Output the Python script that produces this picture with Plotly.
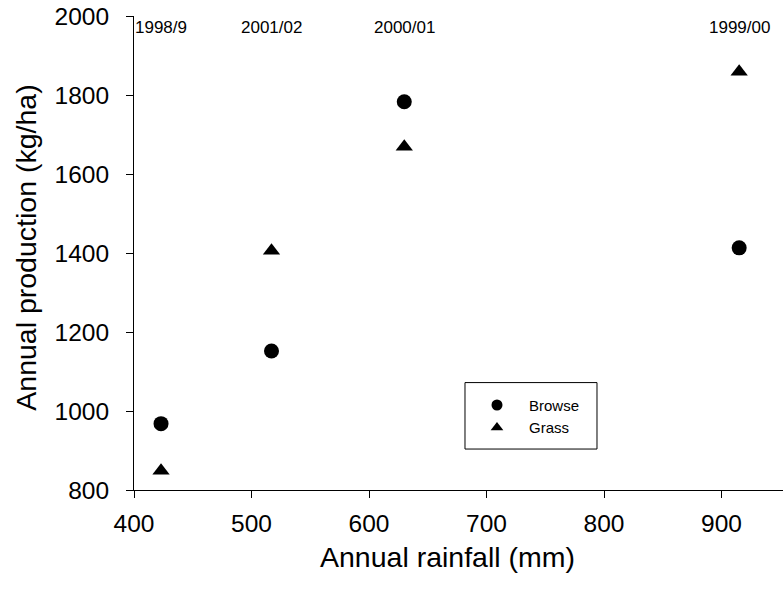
import plotly.graph_objects as go

# Data
rainfall = [423, 517, 630, 915]          # Annual rainfall (mm)
browse = [968, 1152, 1783, 1413]         # Annual production, browse (kg/ha)
grass = [849, 1406, 1669, 1859]          # Annual production, grass (kg/ha)
season_labels = ["1998/9", "2001/02", "2000/01", "1999/00"]
x_ticks = [400, 500, 600, 700, 800, 900]
y_ticks = [800, 1000, 1200, 1400, 1600, 1800, 2000]

FONT = "Arial, Liberation Sans, sans-serif"

fig = go.Figure()

# Plotted series (legend handled by small legend-only proxies)
fig.add_trace(go.Scatter(x=rainfall, y=browse, mode="markers", name="Browse",
                         marker=dict(symbol="circle", size=15, color="black"),
                         showlegend=False))
fig.add_trace(go.Scatter(x=rainfall, y=grass, mode="markers", name="Grass",
                         marker=dict(symbol="triangle-up", size=15, color="black"),
                         showlegend=False))
fig.add_trace(go.Scatter(x=[None], y=[None], mode="markers", name="Browse",
                         marker=dict(symbol="circle", size=11, color="black")))
fig.add_trace(go.Scatter(x=[None], y=[None], mode="markers", name="Grass",
                         marker=dict(symbol="triangle-up", size=11, color="black")))

annotations = []
for xv, lab in zip(rainfall, season_labels):
    annotations.append(dict(x=xv, y=2000, xref="x", yref="y", text=lab,
                            showarrow=False, xanchor="center", yanchor="top",
                            font=dict(family=FONT, size=17, color="black")))
annotations.append(dict(x=0.4838, y=-0.141, xref="paper", yref="paper",
                        text="Annual rainfall (mm)", showarrow=False,
                        xanchor="center", yanchor="middle",
                        font=dict(family=FONT, size=28.5, color="black")))
annotations.append(dict(x=-0.1665, y=0.511, xref="paper", yref="paper",
                        text="Annual production (kg/ha)", showarrow=False,
                        textangle=-90, xanchor="center", yanchor="middle",
                        font=dict(family=FONT, size=28.5, color="black")))

axis_common = dict(showgrid=False, zeroline=False, showline=True,
                   linecolor="black", linewidth=1, ticks="outside",
                   ticklen=7, tickwidth=1, tickcolor="black",
                   tickfont=dict(family=FONT, size=24.5, color="black"))

fig.update_layout(
    width=783, height=590,
    margin=dict(l=134, r=0, t=16, b=100),
    paper_bgcolor="white", plot_bgcolor="white",
    font=dict(family=FONT, color="black"),
    xaxis=dict(range=[400, 952.3], tickvals=x_ticks, ticklabelstandoff=5, **axis_common),
    yaxis=dict(range=[800, 2000], tickvals=y_ticks, ticklabelstandoff=12, **axis_common),
    legend=dict(x=0.51, y=0.2136, xanchor="left", yanchor="top",
                bgcolor="rgba(0,0,0,0)", borderwidth=0,
                font=dict(family=FONT, size=15, color="black"),
                itemwidth=54, tracegroupgap=0),
    shapes=[dict(type="rect", xref="paper", yref="paper",
                 x0=0.51, x1=0.7134, y0=0.0864, y1=0.2266,
                 line=dict(color="black", width=1), fillcolor="rgba(0,0,0,0)")],
    annotations=annotations,
)

fig.write_html("out.html")
